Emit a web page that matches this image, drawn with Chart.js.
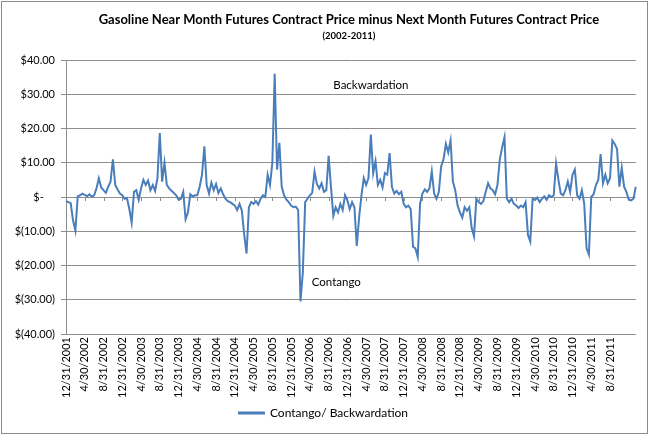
<!DOCTYPE html>
<html><head><meta charset="utf-8">
<script src="https://cdn.jsdelivr.net/npm/chart.js@4/dist/chart.umd.min.js"></script>
<style>html,body{margin:0;padding:0;background:#fff;}#wrap{width:652px;height:436px;}</style>
</head><body><div id="wrap"><canvas id="c" width="652" height="436"></canvas></div>
<script>
const titleText = 'Gasoline Near Month Futures Contract Price minus Next Month Futures Contract Price';
const subtitleText = '(2002-2011)';
const seriesName = 'Contango/ Backwardation';
const noteHigh = 'Backwardation';
const noteLow = 'Contango';
const tickLabels = ['12/31/2001','4/30/2002','8/31/2002','12/31/2002','4/30/2003','8/31/2003','12/31/2003','4/30/2004','8/31/2004','12/31/2004','4/30/2005','8/31/2005','12/31/2005','4/30/2006','8/31/2006','12/31/2006','4/30/2007','8/31/2007','12/31/2007','4/30/2008','8/31/2008','12/31/2008','4/30/2009','8/31/2009','12/31/2009','4/30/2010','8/31/2010','12/31/2010','4/30/2011','8/31/2011'];

// semi-monthly readings of the spread
const y2001 = [-1.2];
const y2002 = [-1.5,-1.8,-6.8,-9.8,0.2,0.5,1.0, 0.6,0.2,0.8,0.1,0.5,2.5,5.5,2.8, 2.0,1.2,3.0,4.5,11.0,3.5,2.2,1.0, 0.5];
const y2003 = [-0.5,-0.3,-3.5,-7.5,1.5,2.0,-0.8, 2.5,5.0,3.5,4.8,2.0,3.5,1.8,5.5, 18.7,4.5,10.0,3.5,2.5,1.8,1.2,0.5, -0.8];
const y2004 = [-0.5,1.5,-6.5,-4.5,0.8,0.2,0.5, 0.5,3.0,6.5,14.8,3.5,1.0,4.2,2.0, 3.8,1.2,2.5,0.8,-0.5,-1.2,-1.5,-2.0, -2.5];
const y2005 = [-3.8,-2.0,-4.0,-11.0,-16.5,-3.0,-1.5, -2.0,-1.2,-2.2,-0.5,0.5,0.0,6.5,3.5, 10.0,36.0,8.0,15.8,3.0,0.5,-0.8,-1.5, -2.5];
const y2006 = [-3.0,-2.8,-3.8,-30.5,-22.0,-1.5,-0.5, 0.5,1.2,7.4,3.8,2.5,4.0,1.5,2.0, 12.0,3.0,-5.5,-3.0,-4.5,-2.0,-3.8,0.5, -1.0];
const y2007 = [-3.5,-1.5,-3.0,-14.3,-6.0,0.5,5.5, 3.5,5.5,18.2,7.0,10.5,3.5,5.0,2.8, 7.0,6.5,12.8,3.0,1.0,1.8,0.8,1.5, -2.0];
const y2008 = [-3.0,-2.5,-3.5,-14.5,-15.0,-17.5,-2.0, 1.0,2.2,1.5,2.5,7.5,1.0,-0.5,1.5, 9.0,11.0,15.5,13.0,16.5,4.5,2.0,-2.5, -4.5];
const y2009 = [-6.0,-3.0,-4.0,-3.0,-9.0,-11.5,-0.5, -1.5,-2.0,-1.2,1.5,4.0,2.5,2.0,0.8, 3.5,11.0,14.5,17.5,-0.5,-1.5,-0.5,-2.0, -2.5];
const y2010 = [-3.2,-2.5,-3.0,-1.5,-11.0,-13.0,-0.5, -0.8,-0.2,-1.5,-0.5,0.2,-0.8,0.5,0.0, 0.5,9.8,5.0,1.0,0.5,2.0,4.5,1.5, 6.5];
const y2011 = [8.0,0.5,-0.5,2.0,-2.0,-15.0,-16.8, 0.0,0.8,3.5,5.0,12.5,4.0,6.5,4.0, 5.5,16.5,15.5,14.0,3.0,8.5,3.0,1.5, -0.8];
const y2012 = [-1.0,-0.5,3.0];

const values = [].concat(y2001,y2002,y2003,y2004,y2005,y2006,y2007,y2008,y2009,y2010,y2011,y2012);

// category dates: 12/31/2001 then mid-month / month-end
const categories = [];
(function(){
  categories.push('12/31/2001');
  let y = 2002, m = 1;
  while (categories.length < values.length) {
    categories.push(m + '/15/' + y);
    if (categories.length >= values.length) break;
    const last = new Date(y, m, 0).getDate();
    categories.push(m + '/' + last + '/' + y);
    m++; if (m > 12) { m = 1; y++; }
  }
})();

const FONT = 'Lato';
const GRID = '#8e8e8e';
const LINE = '#4a7ebb';

const decor = {
  id: 'decor',
  beforeDraw(chart) {
    const ctx = chart.ctx;
    ctx.save();
    ctx.fillStyle = '#fff';
    ctx.fillRect(0, 0, chart.width, chart.height);
    ctx.restore();
  },
  beforeDatasetsDraw(chart) {
    const ctx = chart.ctx, xs = chart.scales.x, ys = chart.scales.y;
    const y0 = ys.getPixelForValue(0);
    ctx.save();
    ctx.strokeStyle = GRID; ctx.lineWidth = 1;
    ctx.beginPath();
    for (let i = 0; i < values.length; i += 8) {
      const x = Math.round(xs.getPixelForValue(i)) + 0.5;
      ctx.moveTo(x, Math.round(y0)); ctx.lineTo(x, Math.round(y0) + 4);
    }
    ctx.stroke();
    ctx.restore();
  },
  afterDraw(chart) {
    const ctx = chart.ctx, a = chart.chartArea, xs = chart.scales.x, ys = chart.scales.y;
    ctx.save();
    const cx = (a.left + a.right) / 2;
    ctx.fillStyle = '#000';
    ctx.textAlign = 'center'; ctx.textBaseline = 'middle';
    ctx.font = 'bold 13px ' + FONT;
    ctx.fillText(titleText, cx - 2, 20);
    ctx.font = 'bold 9.5px ' + FONT;
    ctx.fillText(subtitleText, cx - 2, 36);
    ctx.font = '11.5px ' + FONT;
    ctx.textAlign = 'left';
    ctx.fillText(noteHigh, xs.getPixelForValue(114), ys.getPixelForValue(32.7));
    ctx.fillText(noteLow, xs.getPixelForValue(104.8), ys.getPixelForValue(-24.8));
    ctx.strokeStyle = '#8a8a8a'; ctx.lineWidth = 1;
    ctx.strokeRect(1.5, 1.5, 646, 432);
    ctx.restore();
  }
};

new Chart(document.getElementById('c'), {
  type: 'line',
  data: {
    labels: categories,
    datasets: [{
      label: seriesName,
      data: values,
      borderColor: LINE,
      backgroundColor: LINE,
      borderWidth: 2,
      pointRadius: 0,
      tension: 0,
      fill: false
    }]
  },
  options: {
    responsive: false,
    animation: false,
    devicePixelRatio: 1,
    layout: { padding: { left: 0, right: 5, top: 60, bottom: 7 } },
    plugins: {
      legend: {
        position: 'bottom',
        labels: { boxWidth: 25, boxHeight: 1, padding: 10, color: '#000', font: { family: FONT, size: 12 } }
      },
      title: { display: false },
      tooltip: { enabled: false }
    },
    scales: {
      x: {
        type: 'category',
        grid: { display: false, drawTicks: false },
        border: { display: false },
        ticks: {
          autoSkip: false, maxRotation: 90, minRotation: 90, padding: 3,
          color: '#000', font: { family: FONT, size: 11 },
          callback: (v, i) => (i % 8 === 0 && i / 8 < tickLabels.length) ? tickLabels[i / 8] : ''
        },
        afterFit: s => { s.height = 63; }
      },
      y: {
        min: -40, max: 40,
        grid: { color: GRID, lineWidth: 1, tickLength: 5 },
        border: { color: GRID },
        ticks: {
          stepSize: 10, padding: 6, color: '#000', font: { family: FONT, size: 11 },
          callback: v => v === 0 ? '$-    ' : (v < 0 ? '$(' + Math.abs(v).toFixed(2) + ')' : '$' + v.toFixed(2))
        },
        afterFit: s => { s.width = 66; }
      }
    }
  },
  plugins: [decor]
});
</script>
</body></html>
